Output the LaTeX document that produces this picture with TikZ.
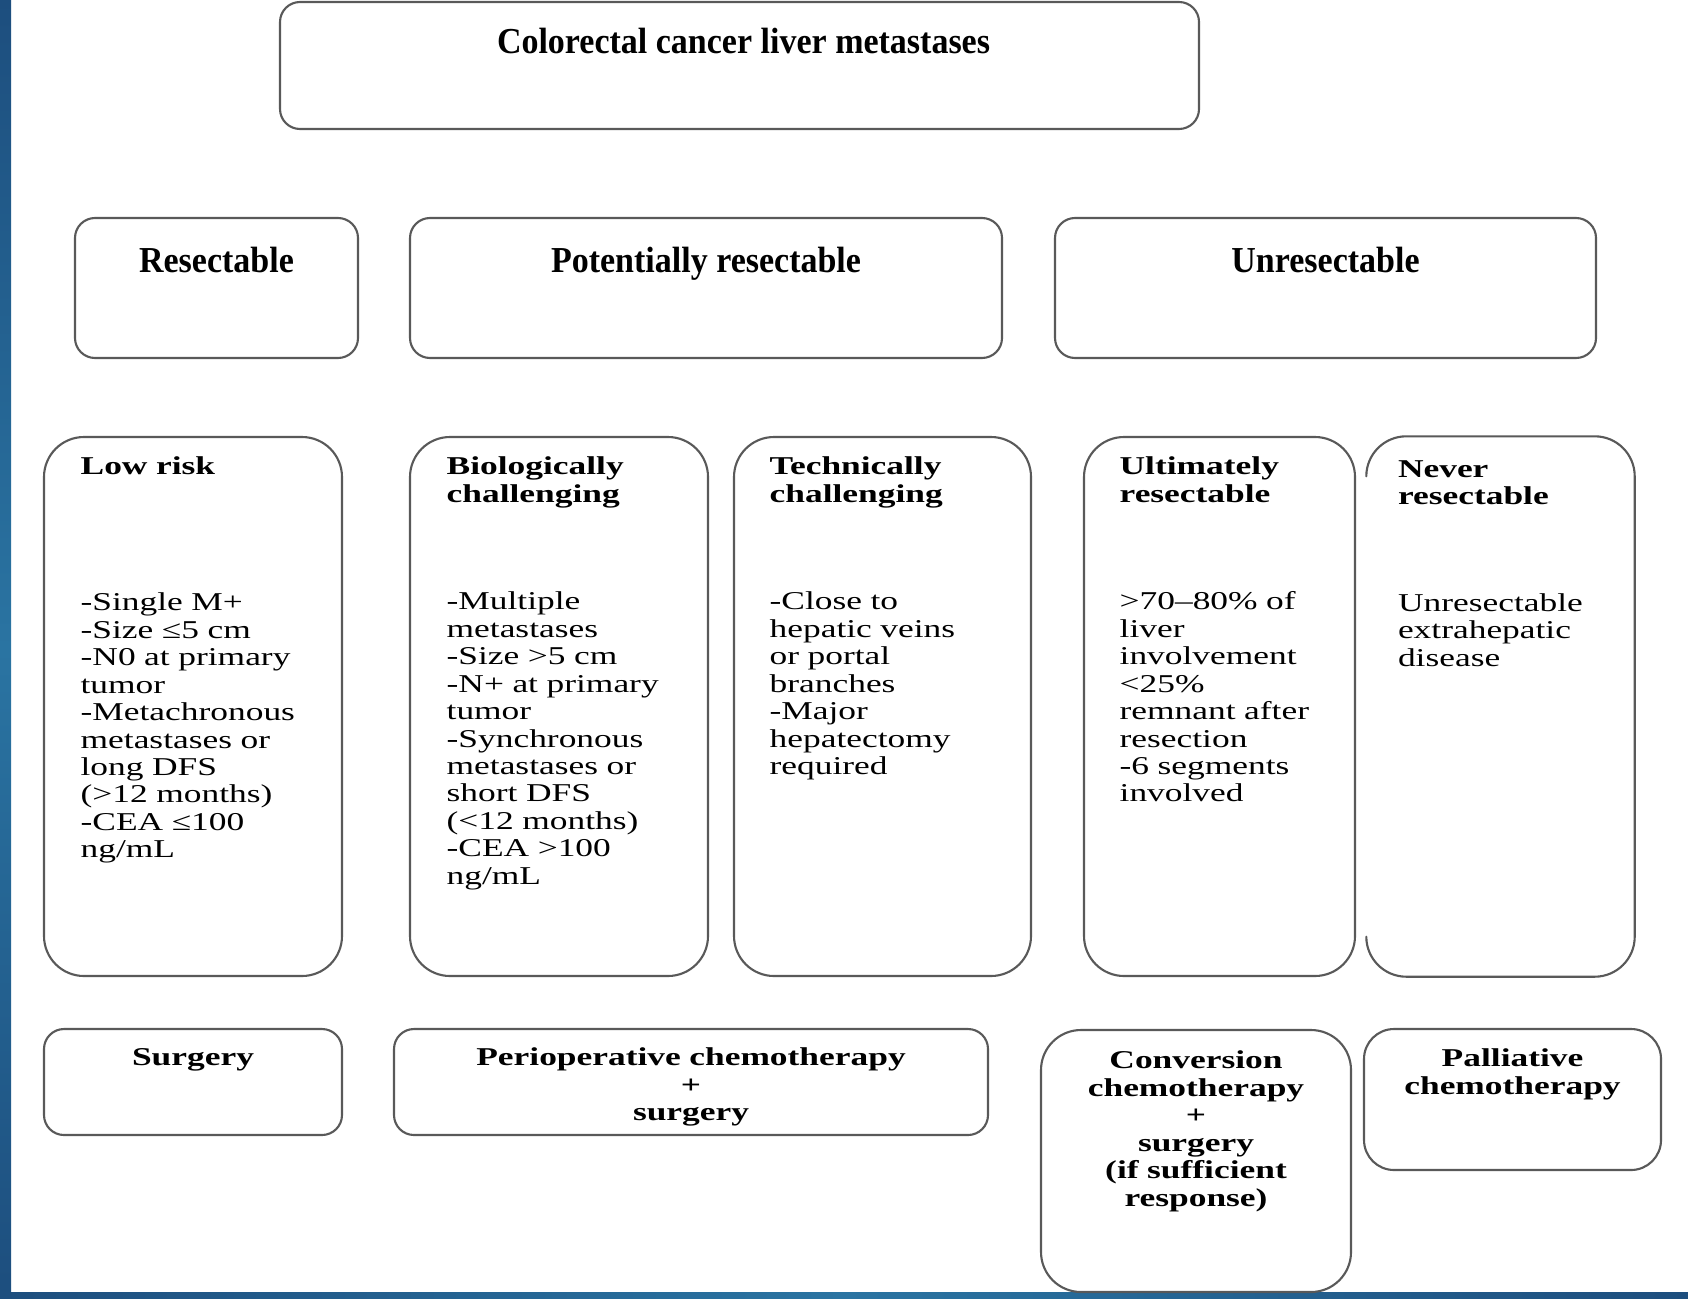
\documentclass[tikz,border=0pt]{standalone}
\usepackage{fontspec}
\setmainfont{Liberation Serif}
\newfontfamily\headfont[FakeStretch=0.93]{Liberation Serif}
\newfontfamily\wideserif[FakeStretch=1.38]{Liberation Serif}
\usetikzlibrary{positioning}
\definecolor{slidedark}{RGB}{29,78,126}
\definecolor{slidelight}{RGB}{42,116,162}
\tikzset{
    box/.style={draw=black!65, line width=0.6pt, fill=white, inner sep=0pt},
    headtext/.style={inner sep=0pt, font=\headfont\bfseries\fontsize{10.4pt}{12pt}\selectfont},
    bodytext/.style={inner sep=0pt, text width=26mm, align=left, font=\wideserif\fontsize{7.3pt}{7.8pt}\selectfont},
    boldtext/.style={inner sep=0pt, text width=#1, align=center, font=\wideserif\bfseries\fontsize{7.3pt}{7.8pt}\selectfont},
    boldtext/.default=26mm
}

\begin{document}
\begin{tikzpicture}[x=0.1mm,y=-0.1mm,line cap=round]
            \useasboundingbox (0,0) rectangle (1688,1298);
            % slide frame
            \fill[white] (0,0) rectangle (1688,1298);
            \shade[top color=slidedark, bottom color=slidedark, middle color=slidelight] (0,0) rectangle (11,1298);
            \shade[left color=slidedark, right color=slidedark, middle color=slidelight] (0,1292) rectangle (1688,1298);

            % top level
            \node[box, rounded corners=2mm, minimum width=91.9mm, minimum height=12.7mm] (crlm) at (739.5,65.5) {};
            \node[headtext, anchor=base] (crlmtxt) at ([xshift=0.4mm, yshift=-5.3mm]crlm.north) {Colorectal cancer liver metastases};

            % categories
            \node[box, rounded corners=2mm, minimum width=28.3mm, minimum height=14mm] (res) at (216.5,288) {};
            \node[box, rounded corners=2mm, minimum width=59.2mm, minimum height=14mm] (potres) at (706,288) {};
            \node[box, rounded corners=2mm, minimum width=54.1mm, minimum height=14mm] (unres) at (1325.5,288) {};
            \node[headtext, anchor=base] (restxt) at ([yshift=-5.6mm]res.north) {Resectable};
            \node[headtext, anchor=base] (potrestxt) at ([yshift=-5.6mm]potres.north) {Potentially resectable};
            \node[headtext, anchor=base] (unrestxt) at ([yshift=-5.6mm]unres.north) {Unresectable};

            % criteria
            \node[box, rounded corners=4mm, minimum width=29.8mm, minimum height=53.9mm] (lowrisk) at (193,706.5) {};
            \node[box, rounded corners=4mm, minimum width=29.8mm, minimum height=53.9mm] (biochal) at (559,706.5) {};
            \node[box, rounded corners=4mm, minimum width=29.7mm, minimum height=53.9mm] (techchal) at (882.5,706.5) {};
            \node[box, rounded corners=4mm, minimum width=27.1mm, minimum height=53.9mm] (ultres) at (1219.5,706.5) {};
            \node[inner sep=0pt, minimum width=26.7mm, minimum height=53.9mm] (neverres) at (1500.5,706.5) {};
            \draw[draw=black!65, line width=0.6pt, rounded corners=4mm]
                ([yshift=-4mm]neverres.north west) -- (neverres.north west) -- (neverres.north east)
                -- (neverres.south east) -- (neverres.south west) -- ([yshift=4mm]neverres.south west);

            \node[boldtext, align=left, anchor=base west] (lowrisktxt) at ([xshift=3.7mm, yshift=-3.9mm]lowrisk.north west) {Low risk};
            \node[boldtext, align=left, anchor=base west] (biochaltxt) at ([xshift=3.7mm, yshift=-3.9mm]biochal.north west) {Biologically\\challenging};
            \node[boldtext, align=left, anchor=base west] (techchaltxt) at ([xshift=3.6mm, yshift=-3.9mm]techchal.north west) {Technically\\challenging};
            \node[boldtext, align=left, anchor=base west] (ultrestxt) at ([xshift=3.6mm, yshift=-3.9mm]ultres.north west) {Ultimately\\resectable};
            \node[boldtext, align=left, anchor=base west] (neverrestxt) at ([xshift=3.1mm, yshift=-4.1mm]neverres.north west) {Never\\resectable};

            \node[bodytext, anchor=base west] (lowriskcrit) at ([xshift=3.7mm, yshift=-17.5mm]lowrisk.north west)
                {-Single M+\\-Size ≤5 cm\\-N0 at primary\\tumor\\-Metachronous\\metastases or\\long DFS\\(>12 months)\\-CEA ≤100\\ng/mL};
            \node[bodytext, anchor=base west] (biochalcrit) at ([xshift=3.7mm, yshift=-17.4mm]biochal.north west)
                {-Multiple\\metastases\\-Size >5 cm\\-N+ at primary\\tumor\\-Synchronous\\metastases or\\short DFS\\(<12 months)\\-CEA >100\\ng/mL};
            \node[bodytext, anchor=base west] (techchalcrit) at ([xshift=3.6mm, yshift=-17.4mm]techchal.north west)
                {-Close to\\hepatic veins\\or portal\\branches\\-Major\\hepatectomy\\required};
            \node[bodytext, anchor=base west] (ultrescrit) at ([xshift=3.6mm, yshift=-17.4mm]ultres.north west)
                {>70–80\% of\\liver\\involvement\\<25\%\\remnant after\\resection\\-6 segments\\involved};
            \node[bodytext, anchor=base west] (neverrescrit) at ([xshift=3.1mm, yshift=-17.5mm]neverres.north west)
                {Unresectable\\extrahepatic\\disease};

            % treatment
            \node[box, rounded corners=2mm, minimum width=29.8mm, minimum height=10.6mm] (surg) at (193,1082) {};
            \node[box, rounded corners=2mm, minimum width=59.4mm, minimum height=10.6mm] (periop) at (691,1082) {};
            \node[box, rounded corners=4mm, minimum width=31mm, minimum height=26.2mm] (convchemo) at (1196,1161) {};
            \node[box, rounded corners=3mm, minimum width=29.7mm, minimum height=14.1mm] (pallchemo) at (1512.5,1099.5) {};

            \node[boldtext=28mm, anchor=base] (surgtxt) at ([yshift=-3.8mm]surg.north) {Surgery};
            \node[boldtext=56mm, anchor=base] (perioptxt) at ([yshift=-3.8mm]periop.north) {Perioperative chemotherapy\\+\\surgery};
            \node[boldtext=29mm, anchor=base] (convchemotxt) at ([yshift=-4mm]convchemo.north) {Conversion\\chemotherapy\\+\\surgery\\(if sufficient\\response)};
            \node[boldtext=28mm, anchor=base] (pallchemotxt) at ([yshift=-3.9mm]pallchemo.north) {Palliative\\chemotherapy};
\end{tikzpicture}
\end{document}
